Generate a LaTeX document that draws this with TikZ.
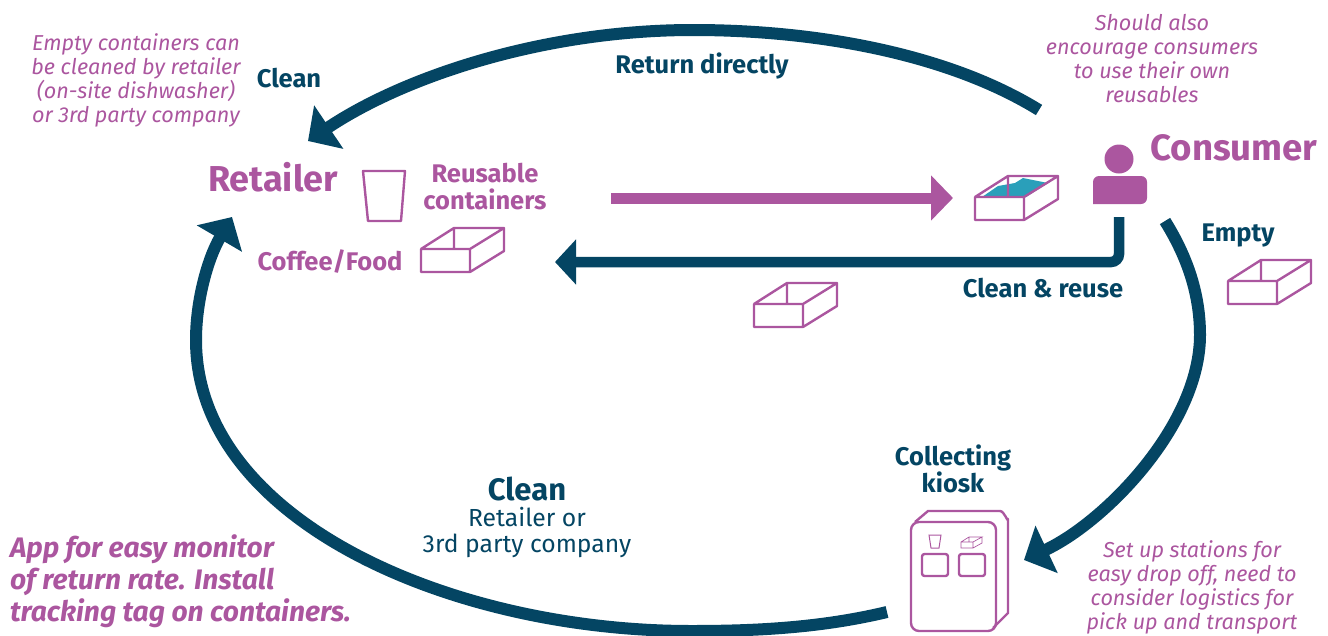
\documentclass[tikz,border=0pt]{standalone}
\usepackage{fontspec}
\setmainfont{Fira Sans}
\usetikzlibrary{arrows.meta}
\definecolor{pinkc}{HTML}{AB569F}
\definecolor{navyc}{HTML}{044563}
\definecolor{tealc}{HTML}{2A9FBA}
\newcommand{\fs}[2]{\fontsize{#1}{#2}\selectfont}
\tikzset{
  x=1pt,y=-1pt,
  every node/.style={inner sep=0pt,outer sep=0pt},
  flow/.style={draw=navyc,line width=12pt},
  flowtip/.style={-{Triangle[length=25pt,width=51pt]}},
  noteit/.style={text=pinkc,align=center,font=\fs{21.6}{24}\itshape},
  labnavy/.style={text=navyc,align=center,font=\fs{25.5}{27}\bfseries},
  labpink/.style={text=pinkc,align=center,font=\fs{25.5}{27}\bfseries},
  bigpink/.style={text=pinkc,align=center,font=\fs{36.6}{40}\bfseries},
  outline/.style={draw=pinkc,line width=2.4pt,line join=round},
  boxshape/.pic={
    \draw[outline,pic actions] (0,-23) rectangle (49,0)
      (0,-23) -- (33,-44) -- (83,-44) -- (49,-23)
      (83,-44) -- (83,-21) -- (49,0)
      (33,-44) -- (33,-23);
  }
}
\begin{document}
\begin{tikzpicture}
\useasboundingbox (0,0) rectangle (1328,635);
% named connector ends
\coordinate (topS) at (1039,110);
\coordinate (topM) at (693,30);
\coordinate (topE) at (308,141);
\coordinate (botS) at (887,612);
\coordinate (botM) at (691,631);
\coordinate (botL) at (196,340);
\coordinate (botE) at (232,217);
\coordinate (rigS) at (1165,221);
\coordinate (rigM) at (1200,335);
\coordinate (rigE) at (1024,560);
\coordinate (pkS) at (1119,217);
\coordinate (pkC) at (1119,262);
\coordinate (pkE) at (555,262);
\coordinate (puS) at (611,198);
\coordinate (puE) at (953,198);
% arcs
\draw[flow,flowtip] (topS) .. controls (950,55) and (820,30) .. (topM) .. controls (545,30) and (405,76) .. (topE);
\draw[flow,flowtip] (botS) .. controls (820,628) and (755,631) .. (botM) .. controls (450,631) and (196,520) .. (botL) .. controls (196,300) and (208,258) .. (botE);
\draw[flow,flowtip] (rigS) .. controls (1188,258) and (1200,295) .. (rigM) .. controls (1200,425) and (1105,522) .. (rigE);
\draw[flow,line width=10.5pt,rounded corners=8pt,-{Triangle[length=21pt,width=44pt]}] (pkS) -- (pkC) -- (pkE);
\draw[draw=pinkc,line width=11pt,-{Triangle[length=22pt,width=44pt]}] (puS) -- (puE);
% text
\node[noteit] (n1) at (136,80.5) {Empty containers can\\be cleaned by retailer\\(on-site dishwasher)\\or 3rd party company};
\node[noteit] (n2) at (1152,59) {Should also\\encourage consumers\\to use their own\\reusables};
\node[noteit] (n3) at (1192,587) {Set up stations for\\easy drop off, need to\\consider logistics for\\pick up and transport};
\node[labnavy] (clean1) at (289,78) {Clean};
\node[labnavy] (ret) at (702,66) {Return directly};
\node[bigpink] (consumer) at (1234,148) {Consumer};
\node[bigpink,font=\fs{36}{40}\bfseries] (retailer) at (273,177) {Retailer};
\node[labpink] (reus) at (485,186.5) {Reusable\\containers};
\node[labpink] (coffee) at (330,262) {Coffee/Food};
\node[labnavy] (empty) at (1238,235) {Empty};
\node[labnavy] (cr) at (1043,288) {Clean \& reuse};
\node[labnavy] (kiosk) at (953,468.5) {Collecting\\kiosk};
\node[labnavy,font=\fs{31}{34}\bfseries] (clean2) at (527,488.5) {Clean};
\node[text=navyc,align=center,font=\fs{24.7}{26}] (cby) at (527,532) {Retailer or\\3rd party company};
\node[text=pinkc,align=left,anchor=west,font=\fs{28.2}{32}\bfseries\itshape] (app) at (10,581) {App for easy monitor\\of return rate. Install\\tracking tag on containers.};
% cup
\draw[outline] (363,171) -- (405,171) -- (401,221) -- (368,221) -- cycle;
% boxes
\path (421,272) pic {boxshape};
\path (754,327) pic {boxshape};
\path (1228,304) pic {boxshape};
\fill[tealc] (982,197) -- (998,186) -- (1015,183) -- (1023,178) -- (1048,183) -- (1026,197) -- cycle;
\path (975,220) pic {boxshape};
% person
\fill[pinkc] (1119,159) circle[radius=14.5];
\fill[pinkc,rounded corners=6pt] (1093,204) -- (1093,176) -- (1147,176) -- (1147,204) [sharp corners] -- cycle;
% kiosk
\draw[outline] (915,522) -- (928,511) -- (1000,511) to[out=0,in=-90] (1008,519) -- (1008,613) -- (993,628);
\draw[outline,rounded corners=8pt] (911,522) rectangle (996,631);
\draw[outline,rounded corners=2.5pt] (922,554) rectangle (948,576);
\draw[outline,rounded corners=2.5pt] (959,554) rectangle (985,576);
\draw[draw=pinkc,line width=1pt] (929,535) -- (941,535) -- (939,548) -- (931,548) -- cycle;
\draw[draw=pinkc,line width=.7pt] (961,542) rectangle (973,548) (961,542) -- (969,537) -- (982,537) -- (973,542) (982,537) -- (982,543) -- (973,548) (969,537) -- (969,542);
\end{tikzpicture}
\end{document}
